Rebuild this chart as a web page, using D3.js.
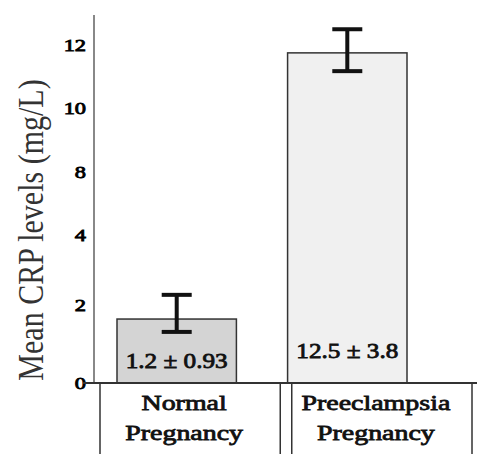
<!DOCTYPE html>
<html>
<head>
<meta charset="utf-8">
<script src="https://cdn.jsdelivr.net/npm/d3@7"></script>
<style>
  html, body { margin: 0; padding: 0; background: #fff; }
  svg { display: block; }
  svg text { font-family: "Liberation Serif", serif; }
</style>
</head>
<body>
<div id="chart"></div>
<script>
// values
const categories = ["Normal Pregnancy", "Preeclampsia Pregnancy"];
const categoryLines = [["Normal", "Pregnancy"], ["Preeclampsia", "Pregnancy"]];
const barValues = [1.64, 11.75];
const errLow = [1.31, 11.17];
const errHigh = [2.29, 12.5];
const valueLabels = ["1.2 \u00b1 0.93", "12.5 \u00b1 3.8"];
const yTicks = [0, 2, 4, 8, 10, 12];

const width = 477, height = 454;
const serif = "'Liberation Serif', serif";

// the figure's bold text is heavy and stretched sideways; fake it with a stroke
function heavy(sel, size, color) {
    sel.style("font-family", serif)
        .style("font-size", size + "px")
        .attr("fill", color)
        .attr("stroke", color)
        .attr("stroke-width", 0.8);
}

const svg = d3.select("#chart")
    .append("svg")
    .attr("width", width)
    .attr("height", height);

// tick labels are not evenly spaced in value, so use a piecewise scale
const y = d3.scaleLinear()
    .domain(yTicks)
    .range([383, 305, 235, 172, 108, 45]);

const x = d3.scaleBand()
    .domain(categories)
    .range([117, 407])
    .paddingInner(0.3);

const xLab = d3.scaleBand()
    .domain(categories)
    .range([100, 472])
    .paddingInner(0.06);

const axisX = 94;

// bars
svg.selectAll(".bar")
    .data(categories)
    .enter()
    .append("rect")
    .attr("x", d => x(d))
    .attr("y", (d, i) => y(barValues[i]))
    .attr("width", x.bandwidth())
    .attr("height", (d, i) => y(0) - y(barValues[i]))
    .attr("fill", (d, i) => i === 0 ? "#d4d4d4" : "#f0f0f0")
    .attr("stroke", "#333")
    .attr("stroke-width", 1.5);

// value labels inside bars
svg.selectAll(".val")
    .data(categories)
    .enter()
    .append("text")
    .attr("transform", (d, i) => "translate(" + (x(d) + x.bandwidth() / 2) + "," + (y(0) - (i === 0 ? 15 : 25)) + ") scale(1.2,1)")
    .attr("text-anchor", "middle")
    .call(heavy, 21, "#111")
    .text((d, i) => valueLabels[i]);

// error bars
const err = svg.selectAll(".err")
    .data(categories)
    .enter()
    .append("g")
    .attr("stroke", "#111")
    .attr("stroke-width", 4);

err.append("line")
    .attr("x1", d => x(d) + x.bandwidth() / 2)
    .attr("x2", d => x(d) + x.bandwidth() / 2)
    .attr("y1", (d, i) => y(errLow[i]))
    .attr("y2", (d, i) => y(errHigh[i]));

[errLow, errHigh].forEach(arr => {
    err.append("line")
        .attr("x1", d => x(d) + x.bandwidth() / 2 - 15)
        .attr("x2", d => x(d) + x.bandwidth() / 2 + 15)
        .attr("y1", (d, i) => y(arr[i]))
        .attr("y2", (d, i) => y(arr[i]));
});

// y axis
const yAxis = svg.append("g")
    .attr("transform", "translate(" + axisX + ",0)")
    .call(d3.axisLeft(y).tickValues(yTicks).tickSize(0).tickPadding(8));

yAxis.attr("font-family", null);
yAxis.select(".domain").remove();
yAxis.selectAll("text")
    .attr("x", -8 / 1.4)
    .attr("transform", "scale(1.4,1)")
    .call(heavy, 16, "#000");

svg.append("line")
    .attr("x1", axisX).attr("x2", axisX)
    .attr("y1", 15).attr("y2", y(0))
    .attr("stroke", "#888")
    .attr("stroke-width", 2);

// baseline
svg.append("line")
    .attr("x1", 83).attr("x2", width)
    .attr("y1", y(0)).attr("y2", y(0))
    .attr("stroke", "#333")
    .attr("stroke-width", 2);

// category boxes
svg.selectAll(".catbox")
    .data(categories)
    .enter()
    .append("rect")
    .attr("x", d => xLab(d))
    .attr("y", y(0))
    .attr("width", xLab.bandwidth())
    .attr("height", 80)
    .attr("fill", "none")
    .attr("stroke", "#333")
    .attr("stroke-width", 1.5);

categories.forEach((c, i) => {
    categoryLines[i].forEach((line, j) => {
        svg.append("text")
            .attr("transform", "translate(" + (xLab(c) + xLab.bandwidth() / 2 - 6) + "," + (y(0) + 27 + j * 30) + ") scale(1.27,1)")
            .attr("text-anchor", "middle")
            .call(heavy, 22, "#111")
            .text(line);
    });
});

// y axis title
svg.append("text")
    .attr("transform", "translate(43," + 230 + ") rotate(-90) scale(1,1.2)")
    .attr("text-anchor", "middle")
    .style("font-family", serif)
    .style("font-size", "30px")
    .attr("fill", "#333")
    .text("Mean CRP levels (mg/L)");
</script>
</body>
</html>
